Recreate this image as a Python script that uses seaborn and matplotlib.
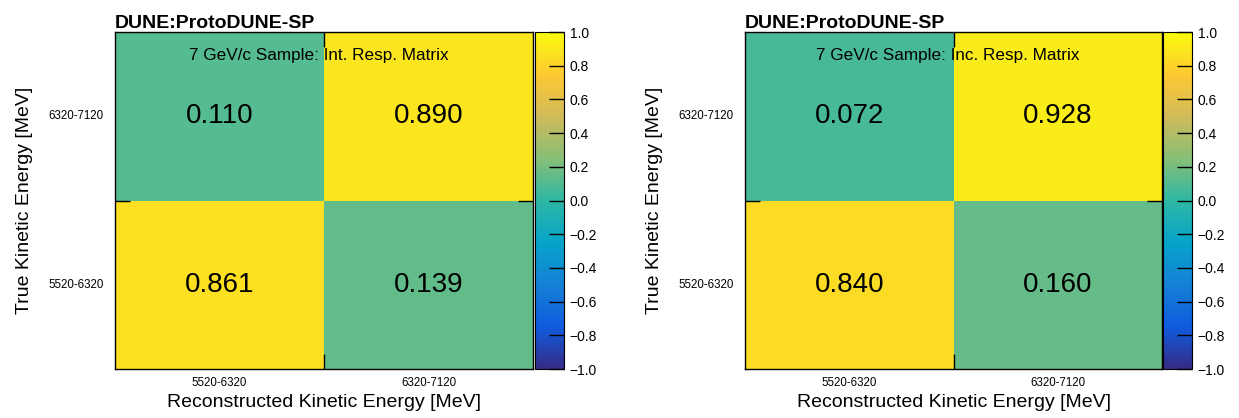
import numpy as np
import pandas as pd
import seaborn as sns
import matplotlib.pyplot as plt
from matplotlib.colors import LinearSegmentedColormap
from matplotlib.ticker import FuncFormatter

# Energy bins (true on y, reconstructed on x)
bins = ['5520-6320', '6320-7120']
# rows = true bin (low, high), columns = reco bin (low, high)
int_matrix = [[0.861, 0.139],
              [0.110, 0.890]]
inc_matrix = [[0.840, 0.160],
              [0.072, 0.928]]
labels = ['7 GeV/c Sample: Int. Resp. Matrix', '7 GeV/c Sample: Inc. Resp. Matrix']

# ROOT kBird palette
stops = [0.0, 0.125, 0.25, 0.375, 0.5, 0.625, 0.75, 0.875, 1.0]
red = [0.2082, 0.0592, 0.0780, 0.0232, 0.1802, 0.5301, 0.8186, 0.9956, 0.9764]
green = [0.1664, 0.3599, 0.5041, 0.6419, 0.7178, 0.7492, 0.7328, 0.7862, 0.9832]
blue = [0.5293, 0.8684, 0.8385, 0.7914, 0.6425, 0.4662, 0.3499, 0.1968, 0.0539]
bird = LinearSegmentedColormap.from_list('bird', list(zip(stops, zip(red, green, blue))), N=255)

sns.set_style('white')
plt.rcParams['font.family'] = ['Liberation Sans', 'DejaVu Sans']
plt.rcParams.update({'text.color': 'black', 'axes.labelcolor': 'black',
                     'xtick.color': 'black', 'ytick.color': 'black',
                     'axes.axisbelow': False})

fig = plt.figure(figsize=(12.39, 4.18), dpi=100)
panels = [
    (int_matrix, labels[0], [0.0928, 0.1172, 0.3374, 0.8062], [0.4318, 0.1172, 0.0234, 0.8062]),
    (inc_matrix, labels[1], [0.6013, 0.1172, 0.3366, 0.8062], [0.9387, 0.1172, 0.0234, 0.8062]),
]

minus = FuncFormatter(lambda v, p: ('%.1f' % v).replace('-', '\u2212'))

for mat, lab, pos, cpos in panels:
    ax = fig.add_axes(pos)
    cax = fig.add_axes(cpos)
    df = pd.DataFrame(mat, index=bins, columns=bins).iloc[::-1]
    sns.heatmap(df, ax=ax, cbar_ax=cax, cmap=bird, vmin=-1, vmax=1,
                annot=True, fmt='.3f',
                annot_kws={'fontsize': 20, 'color': 'black'})
    ax.set_axisbelow(False)
    cax.set_axisbelow(False)
    for s in ax.spines.values():
        s.set_visible(True)
        s.set_linewidth(1.0)
        s.set_color('black')
    ax.tick_params(which='major', length=0, labelsize=8.3)
    ax.tick_params(axis='x', pad=6, labelrotation=0)
    ax.tick_params(axis='y', pad=8, labelrotation=0)
    ax.set_xticks([1], minor=True)
    ax.set_yticks([1], minor=True)
    ax.tick_params(which='minor', direction='in', length=11, width=1,
                   top=True, bottom=True, left=True, right=True)
    ax.set_xlabel('Reconstructed Kinetic Energy [MeV]', fontsize=14, labelpad=3)
    ax.set_ylabel('True Kinetic Energy [MeV]', fontsize=14, labelpad=11)
    ax.text(0.487, 0.93, lab, transform=ax.transAxes, ha='center', va='center', fontsize=12.3)
    ax.text(0.0, 1.012, 'DUNE:ProtoDUNE-SP', transform=ax.transAxes, ha='left', va='baseline',
            fontsize=14, fontweight='bold')

    cbar = ax.collections[0].colorbar
    cbar.set_ticks(np.linspace(-1, 1, 11))
    cbar.ax.yaxis.set_major_formatter(minus)
    cbar.ax.tick_params(direction='in', length=11, width=1, labelsize=10, pad=4,
                        right=True, left=False)
    cbar.outline.set_linewidth(0.8)
    cbar.outline.set_edgecolor('black')

fig.savefig('out.png', dpi=100)
